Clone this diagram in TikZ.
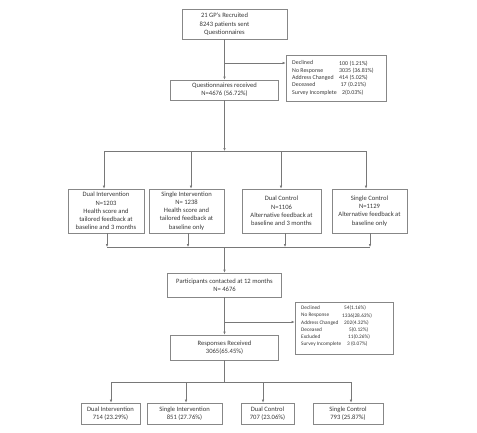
\documentclass[tikz,border=0pt]{standalone}
\usepackage{fontspec}
\setmainfont{Carlito}
\usetikzlibrary{arrows.meta}
\definecolor{lgray}{RGB}{120,120,120}
\definecolor{bgray}{RGB}{135,135,135}
\definecolor{txt}{RGB}{55,55,55}
\begin{document}
\begin{tikzpicture}[x=1pt,y=-1pt,
  box/.style={draw=bgray, line width=0.7pt, inner sep=0pt, align=center, text=txt, font=\fontsize{6.6}{8.2}\selectfont},
  plain/.style={inner sep=0pt, align=center, text=txt, font=\fontsize{6.6}{8.5}\selectfont},
  tabA/.style={inner sep=0pt, anchor=north west, align=left, text=txt, font=\fontsize{5.9}{7.3}\selectfont},
  tabB/.style={inner sep=0pt, anchor=north west, align=left, text=txt, font=\fontsize{5.3}{7.2}\selectfont},
  conn/.style={draw=lgray, line width=0.7pt},
  arr/.style={conn, -{Latex[length=3pt,width=2.6pt]}}]
\useasboundingbox (0,0) rectangle (477,432);

% top
\node[box, minimum width=105pt, minimum height=30pt] (gp) at (234.5,24) {};
\node[plain] (gpt) at (224.5,24.5) {21 GP's Recruited\\8243 patients sent\\Questionnaires};

\node[box, minimum width=100pt, minimum height=46pt] (dec1) at (336,78) {};
\node[tabA] (dec1l) at (292,60.5) {Declined\\No Response\\Address Changed\\Deceased\\Survey Incomplete};
\node[tabA] (dec1v) at (339,60.5) {100 (1.21\%)\\3035 (36.81\%)\\414 (5.02\%)\\\hspace*{1.5pt}17 (0.21\%)\\\hspace*{3pt}2(0.03\%)};

\node[box, minimum width=108pt, minimum height=20pt] (q) at (224.5,90) {Questionnaires received\\N=4676 (56.72\%)};

% groups
\node[box, minimum width=76pt, minimum height=44pt] (di) at (106,211) {Dual Intervention\\N=1203\\Health score and\\tailored feedback at\\baseline and 3 months};
\node[box, minimum width=75pt, minimum height=44pt] (si) at (186.5,211) {Single Intervention\\N= 1238\\Health score and\\tailored feedback at\\baseline only};
\node[box, minimum width=79pt, minimum height=44pt] (dc) at (281.5,211) {Dual Control\\N=1106\\Alternative feedback at\\baseline and 3 months};
\node[box, minimum width=75pt, minimum height=44pt] (sc) at (369.5,211) {Single Control\\N=1129\\Alternative feedback at\\baseline only};

% 12 months
\node[box, minimum width=114pt, minimum height=24pt] (pc) at (224.5,285) {Participants contacted at 12 months\\N= 4676};

\node[box, minimum width=98pt, minimum height=52pt] (dec2) at (344,328) {};
\node[tabB] (dec2l) at (301,305.8) {Declined\\No Response\\Address Changed\\Deceased\\Excluded\\Survey Incomplete};
\node[tabB] (dec2v) at (342,305.8) {\hspace*{2pt}54(1.16\%)\\1336(28.63\%)\\\hspace*{2pt}202(4.32\%)\\\hspace*{7pt}5(0.12\%)\\\hspace*{6pt}11(0.26\%)\\\hspace*{5pt}3 (0.07\%)};

\node[box, minimum width=108pt, minimum height=25pt] (rr) at (224.5,347.5) {Responses Received\\3065(65.45\%)};

% bottom
\node[box, minimum width=59pt, minimum height=21pt] (bdi) at (110.5,413.5) {Dual Intervention\\714 (23.29\%)};
\node[box, minimum width=75pt, minimum height=21pt] (bsi) at (184.5,413.5) {Single Intervention\\851 (27.76\%)};
\node[box, minimum width=53pt, minimum height=21pt] (bdc) at (267.5,413.5) {Dual Control\\707 (23.06\%)};
\node[box, minimum width=70pt, minimum height=21pt] (bsc) at (348,413.5) {Single Control\\793 (25.87\%)};

% connectors top
\draw[arr] (gpt |- gp.south) -- (q.north);
\coordinate (j1) at (224.5,63);
\draw[arr] (j1) -- (j1 -| dec1.west);

\coordinate (b1m) at (224.5,151);
\coordinate (b1a) at (104,151);
\coordinate (b1b) at (191,151);
\coordinate (b1c) at (281,151);
\coordinate (b1d) at (366,151);
\draw[arr] (q.south) -- (b1m);
\draw[conn] (b1a) -- (b1d);
\draw[arr] (b1a) -- (b1a |- di.north);
\draw[arr] (b1b) -- (b1b |- si.north);
\draw[arr] (b1c) -- (b1c |- dc.north);
\draw[arr] (b1d) -- (b1d |- sc.north);

\coordinate (b2m) at (224.5,247);
\coordinate (b2a) at (107,247);
\coordinate (b2b) at (188,247);
\coordinate (b2c) at (285,247);
\coordinate (b2d) at (370,247);
\draw[conn] (b2a) -- (b2d);
\draw[arr] (b2a |- di.south) -- (b2a);
\draw[arr] (b2b |- si.south) -- (b2b);
\draw[arr] (b2c |- dc.south) -- (b2c);
\draw[arr] (b2d |- sc.south) -- (b2d);
\draw[arr] (b2m) -- (pc.north);

\draw[arr] (pc.south) -- (rr.north);
\coordinate (j2) at (224.5,322);
\draw[arr] (j2) -- (j2 -| dec2.west);

\coordinate (b3m) at (224.5,382);
\coordinate (b3a) at (111,382);
\coordinate (b3b) at (186,382);
\coordinate (b3c) at (263,382);
\coordinate (b3d) at (351,382);
\draw[conn] (rr.south) -- (b3m);
\draw[conn] (b3a) -- (b3d);
\draw[arr] (b3a) -- (b3a |- bdi.north);
\draw[arr] (b3b) -- (b3b |- bsi.north);
\draw[arr] (b3c) -- (b3c |- bdc.north);
\draw[arr] (b3d) -- (b3d |- bsc.north);
\end{tikzpicture}
\end{document}
